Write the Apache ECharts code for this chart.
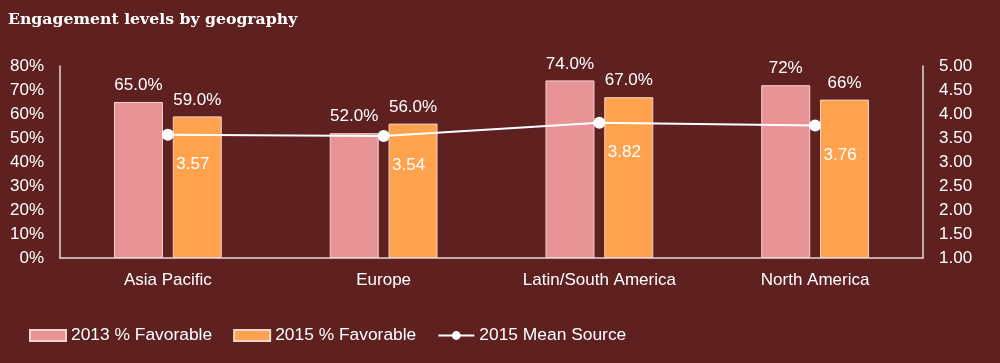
<!DOCTYPE html>
<html><head><meta charset="utf-8">
<script src="https://cdn.jsdelivr.net/npm/echarts@6/dist/echarts.min.js"></script>
<style>html,body{margin:0;padding:0;background:#5E2120;}#c{width:1000px;height:363px;}</style>
</head><body><div id="c"></div>
<script>
const categories = ['Asia Pacific', 'Europe', 'Latin/South America', 'North America'];
const fav2013 = [65, 52, 74, 72];
const fav2015 = [59, 56, 67, 66];
const fav2013Labels = ['65.0%', '52.0%', '74.0%', '72%'];
const fav2015Labels = ['59.0%', '56.0%', '67.0%', '66%'];
const meanSource = [3.57, 3.54, 3.82, 3.76];
const leftTicks = [0, 10, 20, 30, 40, 50, 60, 70, 80];
const rightTicks = [1.0, 1.5, 2.0, 2.5, 3.0, 3.5, 4.0, 4.5, 5.0];

const font = 'Liberation Sans, Arial, sans-serif';
const txt = '#FFFFFF';
const axisCol = '#E6D6D3';
const chart = echarts.init(document.getElementById('c'));
chart.setOption({
  backgroundColor: '#5E2120',
  animation: false,
  title: {
    text: 'Engagement levels by geography', left: 3, top: 7,
    textStyle: { fontFamily: 'DejaVu Serif, serif', fontWeight: 'bold', fontSize: 15.7, color: '#FFFFFF' }
  },
  legend: {
    left: 24, top: 322, itemWidth: 36, itemHeight: 11, itemGap: 21,
    textStyle: { color: txt, fontFamily: font, fontSize: 17.4 },
    data: [
      { name: '2013 % Favorable', icon: 'rect' },
      { name: '2015 % Favorable', icon: 'rect' },
      { name: '2015 Mean Source' }
    ]
  },
  grid: { left: 60, right: 77, top: 66, bottom: 105 },
  xAxis: {
    type: 'category', data: categories,
    axisLine: { lineStyle: { color: axisCol, width: 1.5 } },
    axisTick: { show: false },
    axisLabel: { color: txt, fontFamily: font, fontSize: 17, margin: 14 }
  },
  yAxis: [{
    type: 'value', min: leftTicks[0], max: leftTicks[leftTicks.length - 1], interval: 10,
    axisLine: { show: true, lineStyle: { color: axisCol, width: 1.5 } },
    axisTick: { show: false }, splitLine: { show: false },
    axisLabel: { color: txt, fontFamily: font, fontSize: 17, margin: 16, formatter: v => v + '%' }
  }, {
    type: 'value', min: rightTicks[0], max: rightTicks[rightTicks.length - 1], interval: 0.5,
    axisLine: { show: true, lineStyle: { color: axisCol, width: 1.5 } },
    axisTick: { show: false }, splitLine: { show: false },
    axisLabel: { color: txt, fontFamily: font, fontSize: 17, margin: 16, formatter: v => v.toFixed(2) }
  }],
  series: [{
    name: '2013 % Favorable', type: 'bar', data: fav2013, barWidth: 49, barGap: '20%',
    itemStyle: { color: '#E89396', borderColor: '#F6D3CF', borderWidth: 1 },
    label: { show: true, position: 'top', distance: 8, color: txt, fontFamily: font, fontSize: 17,
      formatter: p => fav2013Labels[p.dataIndex] }
  }, {
    name: '2015 % Favorable', type: 'bar', data: fav2015, barWidth: 49,
    itemStyle: { color: '#FFA24E', borderColor: '#F6D3CF', borderWidth: 1 },
    label: { show: true, position: 'top', distance: 8, color: txt, fontFamily: font, fontSize: 17,
      formatter: p => fav2015Labels[p.dataIndex] }
  }, {
    name: '2015 Mean Source', type: 'line', yAxisIndex: 1, data: meanSource,
    symbol: 'circle', symbolSize: 12, z: 5,
    lineStyle: { color: '#FFFFFF', width: 2 }, itemStyle: { color: '#FFFFFF' },
    label: { show: true, position: 'bottom', distance: 10, offset: [25, 5], color: txt, fontFamily: font, fontSize: 17,
      formatter: p => p.value.toFixed(2) }
  }]
});
</script></body></html>
